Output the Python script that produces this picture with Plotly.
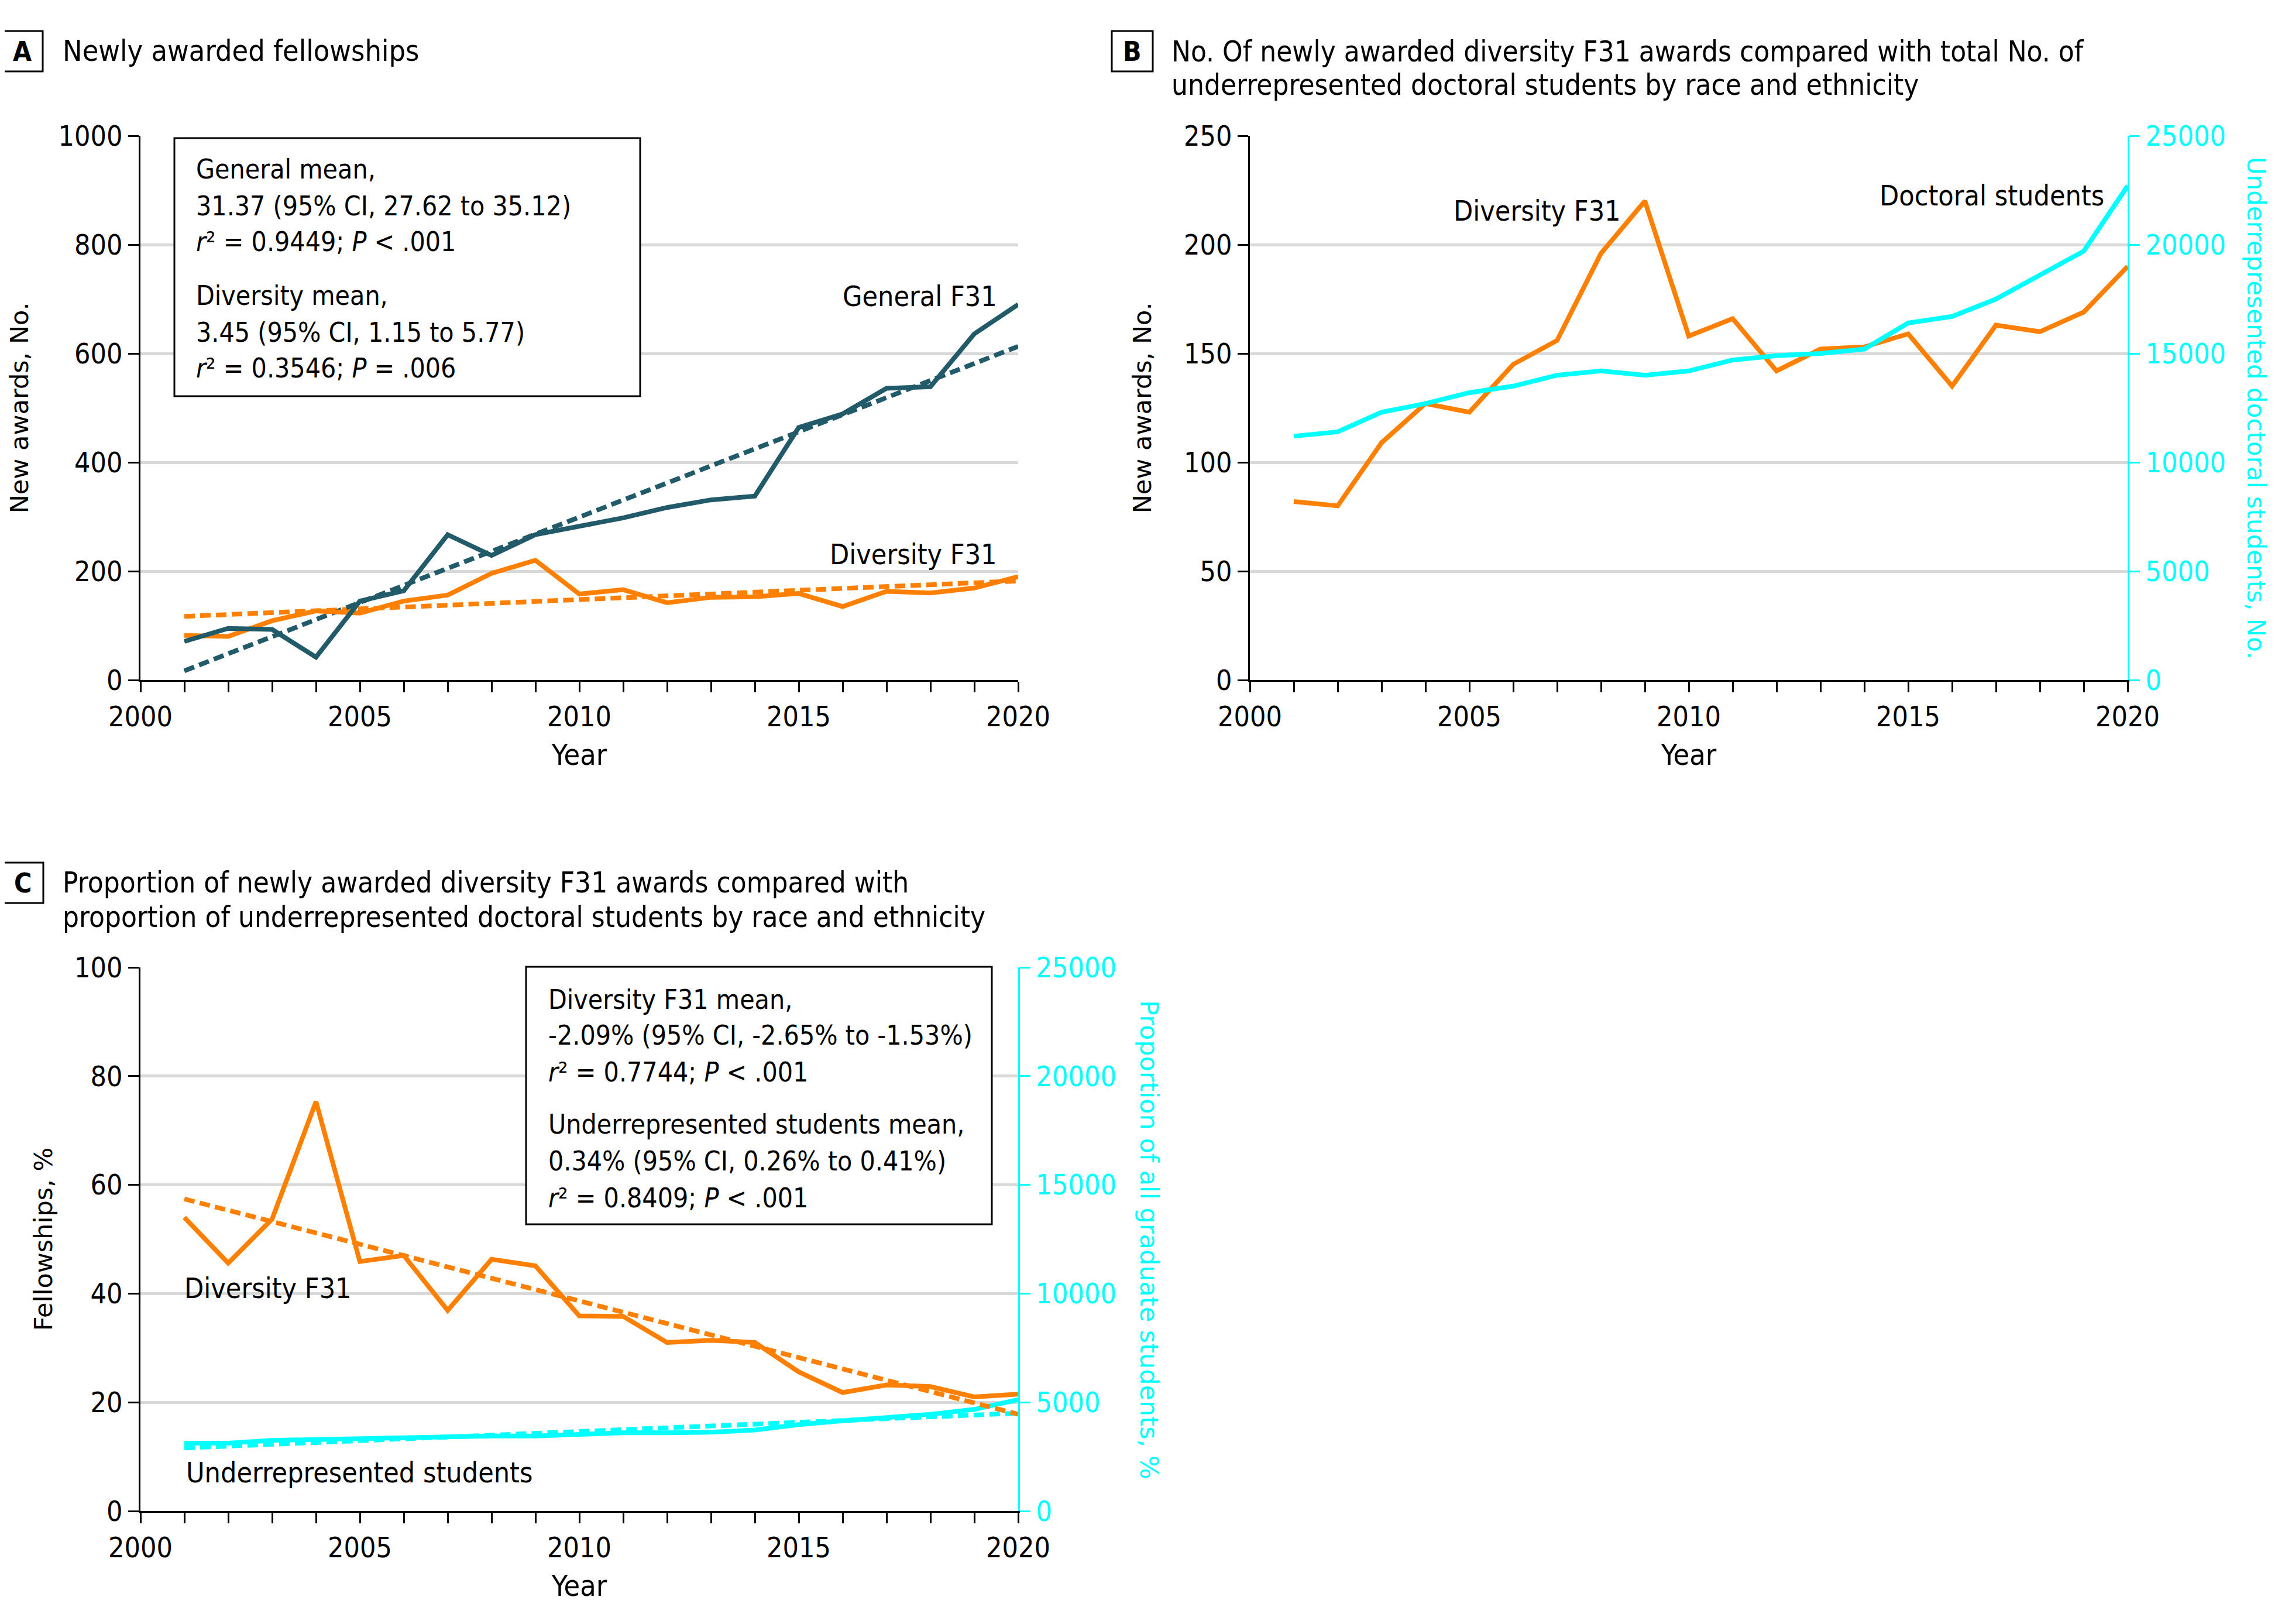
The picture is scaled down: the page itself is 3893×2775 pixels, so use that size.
import plotly.graph_objects as go

W, H = 3893, 2775
FW, FH = W - 16, H - 16  # page body keeps an 8 px margin

years = list(range(2001, 2021))

# panel A
general_f31 = [71, 95, 93, 42, 145, 164, 267, 229, 267, 282,
               298, 317, 331, 338, 464, 489, 536, 539, 636, 690]
diversity_f31 = [82, 80, 109, 127, 123, 145, 156, 196, 220, 158,
                 166, 142, 152, 153, 159, 135, 163, 160, 169, 190]
trend_years = [2001, 2020]
general_trend = [17, 613]
diversity_trend = [117, 182]

# panel B
doctoral_students = [11200, 11400, 12300, 12700, 13200, 13500, 14000, 14200, 14000, 14200,
                     14700, 14900, 15000, 15200, 16400, 16700, 17500, 18600, 19700, 22700]

# panel C (percent)
diversity_pct = [54.0, 45.6, 53.7, 75.3, 45.9, 47.0, 36.9, 46.3, 45.1, 35.9,
                 35.8, 31.0, 31.4, 31.0, 25.6, 21.8, 23.2, 22.9, 21.0, 21.5]
underrep_pct = [12.5, 12.5, 13.0, 13.2, 13.3, 13.4, 13.6, 13.8, 13.8, 14.1,
                14.4, 14.4, 14.5, 14.9, 15.9, 16.6, 17.2, 17.8, 18.7, 20.5]
diversity_pct_trend = [57.4, 17.8]
underrep_pct_trend = [11.6, 18.0]

box_a_lines = ["General mean,",
               "31.37 (95% CI, 27.62 to 35.12)",
               "<i>r</i>² = 0.9449; <i>P</i> < .001",
               "Diversity mean,",
               "3.45 (95% CI, 1.15 to 5.77)",
               "<i>r</i>² = 0.3546; <i>P</i> = .006"]
box_c_lines = ["Diversity F31 mean,",
               "-2.09% (95% CI, -2.65% to -1.53%)",
               "<i>r</i>² = 0.7744; <i>P</i> < .001",
               "Underrepresented students mean,",
               "0.34% (95% CI, 0.26% to 0.41%)",
               "<i>r</i>² = 0.8409; <i>P</i> < .001"]

TEAL = "#215a69"
ORANGE = "#ff8000"
CYAN = "#00ffff"
COND = "DejaVu Sans Condensed, Liberation Sans Narrow, sans-serif"
WIDE = "DejaVu Sans, Verdana, sans-serif"

def px(x):
    return (x - 8) / FW

def py(y):
    return 1 - (y - 8) / FH

fig = go.Figure()

def line(x, y, color, xa, ya, dash=None):
    fig.add_trace(go.Scatter(x=x, y=y, mode="lines", xaxis=xa, yaxis=ya,
                             line=dict(color=color, width=8, dash=dash),
                             showlegend=False, hoverinfo="skip"))

dash = "18px,9px"
# A
line(trend_years, diversity_trend, ORANGE, "x", "y", dash)
line(trend_years, general_trend, TEAL, "x", "y", dash)
line(years, diversity_f31, ORANGE, "x", "y")
line(years, general_f31, TEAL, "x", "y")
# B
line(years, doctoral_students, CYAN, "x2", "y3")
line(years, diversity_f31, ORANGE, "x2", "y2")
# C
line(trend_years, underrep_pct_trend, CYAN, "x3", "y4", dash)
line(years, underrep_pct, CYAN, "x3", "y4")
line(trend_years, diversity_pct_trend, ORANGE, "x3", "y4", dash)
line(years, diversity_pct, ORANGE, "x3", "y4")
fig.add_trace(go.Scatter(x=[], y=[], xaxis="x3", yaxis="y5", showlegend=False))

title_font = dict(family=COND, size=50, color="black")
ytitle_font = dict(family=WIDE, size=43, color="black")

xcommon = dict(range=[2000, 2020], tick0=2000, dtick=5, ticks="outside", ticklen=18,
               tickwidth=3, tickcolor="black", showline=True, linecolor="black",
               linewidth=3, showgrid=False, zeroline=False, automargin=False,
               tickfont=dict(family=COND, size=48, color="black"),
               title=dict(text="Year", font=title_font, standoff=22),
               minor=dict(dtick=1, ticks="outside", ticklen=18, tickwidth=3,
                          tickcolor="black", showgrid=False))
ycommon = dict(ticks="outside", ticklen=18, tickwidth=3, tickcolor="black",
               showline=True, linecolor="black", linewidth=3, showgrid=True,
               gridcolor="#d9d9d9", gridwidth=5, zeroline=False, automargin=False,
               tickfont=dict(family=COND, size=48, color="black"))
yright = dict(ticks="outside", ticklen=18, tickwidth=3, tickcolor=CYAN,
              showline=True, linecolor=CYAN, linewidth=3, showgrid=False,
              zeroline=False, side="right", range=[0, 25000], dtick=5000,
              tickformat="d", automargin=False,
              tickfont=dict(family=COND, size=48, color=CYAN))

top_dom = [py(1162), py(232)]
bot_dom = [py(2582), py(1653)]

fig.update_layout(
    width=FW, height=FH, margin=dict(l=0, r=0, t=0, b=0, autoexpand=False),
    paper_bgcolor="white", plot_bgcolor="white",
    xaxis=dict(xcommon, domain=[px(240), px(1740)], anchor="y"),
    yaxis=dict(ycommon, domain=top_dom, range=[0, 1000], dtick=200, anchor="x",
               title=dict(text="New awards, No.", font=ytitle_font, standoff=38)),
    xaxis2=dict(xcommon, domain=[px(2136), px(3636)], anchor="y2"),
    yaxis2=dict(ycommon, domain=top_dom, range=[0, 250], dtick=50, anchor="x2",
                title=dict(text="New awards, No.", font=ytitle_font, standoff=42)),
    yaxis3=dict(yright, overlaying="y2", anchor="x2"),
    xaxis3=dict(xcommon, domain=[px(240), px(1740)], anchor="y4"),
    yaxis4=dict(ycommon, domain=bot_dom, range=[0, 100], dtick=20, anchor="x3",
                title=dict(text="Fellowships, %", font=ytitle_font, standoff=24)),
    yaxis5=dict(yright, overlaying="y4", anchor="x3"),
)

shapes = []
annotations = []

def text(x, y, t, size=48, family=COND, color="black", xanchor="left", angle=0,
         xref="paper", yref="paper", weight="normal"):
    annotations.append(dict(x=x, y=y, xref=xref, yref=yref, text=t, showarrow=False,
                            xanchor=xanchor, yanchor="middle", textangle=angle,
                            font=dict(family=family, size=size, color=color, weight=weight)))

def rect(x0, y0, x1, y1, fill="rgba(0,0,0,0)"):
    shapes.append(dict(type="rect", xref="paper", yref="paper",
                       x0=px(x0), x1=px(x1), y0=py(y1), y1=py(y0),
                       line=dict(color="black", width=3), fillcolor=fill, layer="above"))

# panel letters and titles
for (x0, y0, x1, y1, letter) in [(2, 53, 73, 122, "A"), (1900, 53, 1970, 122, "B"), (3, 1474, 74, 1543, "C")]:
    rect(x0, y0, x1, y1)
    text(px((x0 + x1) / 2), py((y0 + y1) / 2), letter, size=46, xanchor="center", weight="bold")

text(px(105), py(87), "Newly awarded fellowships", size=50)
text(px(2000), py(89), "No. Of newly awarded diversity F31 awards compared with total No. of", size=49)
text(px(2000), py(146), "underrepresented doctoral students by race and ethnicity", size=49)
text(px(105), py(1508), "Proportion of newly awarded diversity F31 awards compared with", size=49)
text(px(105), py(1567), "proportion of underrepresented doctoral students by race and ethnicity", size=49)

# right axis titles read top to bottom
text(px(3855), py(697), "Underrepresented doctoral students, No.", size=42, family=WIDE,
     color=CYAN, xanchor="center", angle=90)
text(px(1964), py(2119), "Proportion of all graduate students, %", size=43, family=WIDE,
     color=CYAN, xanchor="center", angle=90)

# stat boxes
rect(298, 236, 1094, 677, fill="white")
for t, yc in zip(box_a_lines, [289, 352, 413, 505, 568, 629]):
    text(px(333), py(yc), t, size=46)
rect(899, 1652, 1695, 2092, fill="white")
for t, yc in zip(box_c_lines, [1708, 1769, 1832, 1921, 1984, 2047]):
    text(px(935), py(yc), t, size=46)

# series labels
text(2019.55, 705, "General F31", size=48, xanchor="right", xref="x", yref="y")
text(2019.55, 231, "Diversity F31", size=48, xanchor="right", xref="x", yref="y")
text(2008.48, 215.6, "Diversity F31", size=48, xanchor="right", xref="x2", yref="y2")
text(2019.49, 222.6, "Doctoral students", size=48, xanchor="right", xref="x2", yref="y2")
text(2000.97, 41, "Diversity F31", size=48, xref="x3", yref="y4")
text(2001.01, 7.1, "Underrepresented students", size=48, xref="x3", yref="y4")

fig.update_layout(shapes=shapes, annotations=annotations)
fig.write_html("out.html")
